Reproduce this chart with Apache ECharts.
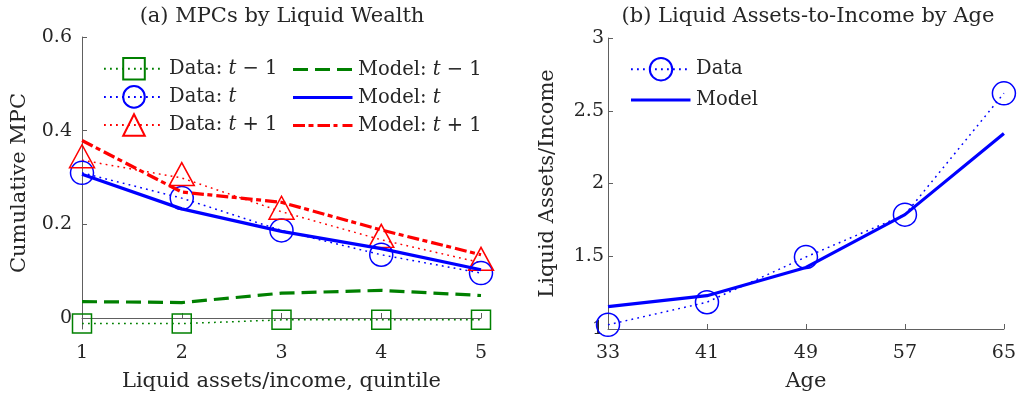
<!DOCTYPE html>
<html><head><meta charset="utf-8">
<script src="https://cdn.jsdelivr.net/npm/echarts@6/dist/echarts.min.js"></script>
<style>html,body{margin:0;padding:0;background:#fff}#c{width:1019px;height:398px}</style>
</head><body><div id="c"></div>
<script>
// ---- Panel (a): MPCs by liquid wealth ----
const quintiles = ['1', '2', '3', '4', '5'];
const dataTm1  = [-0.012, -0.012, -0.004, -0.004, -0.004];
const dataT    = [0.310, 0.256, 0.187, 0.135, 0.096];
const dataTp1  = [0.337, 0.299, 0.227, 0.167, 0.118];
const modelTm1 = [0.035, 0.033, 0.053, 0.059, 0.048];
const modelT   = [0.307, 0.233, 0.185, 0.148, 0.103];
const modelTp1 = [0.379, 0.269, 0.247, 0.188, 0.135];
const mpcTicks = [0, 0.2, 0.4, 0.6];

// ---- Panel (b): liquid assets-to-income by age ----
const ages = ['33', '41', '49', '57', '65'];
const liqData  = [1.029, 1.184, 1.495, 1.786, 2.620];
const liqModel = [1.154, 1.229, 1.423, 1.786, 2.343];

const FONT = 'DejaVu Serif';
const TXT = '#262626';
const AX = '#606060';
const GREEN = '#008000', BLUE = '#0000FF', RED = '#FF0000';
const FS_TICK = 19, FS_NAME = 21, FS_LEG = 19.5;

const rich = {
  n: { fontFamily: FONT, fontSize: FS_LEG, color: TXT },
  i: { fontFamily: FONT, fontSize: FS_LEG, color: TXT, fontStyle: 'italic' }
};
function fmt(name) {
  const m = name.match(/^(.*: )t(.*)$/);
  if (!m) return '{n|' + name + '}';
  return '{n|' + m[1] + '}{i|t}' + (m[2] ? '{n|' + m[2] + '}' : '');
}
// legend icons for model lines (bounding box 60 x 27, band in the middle)
const BOX = 'M0,0h0.01v0.01h-0.01zM59.99,26.99h0.01v0.01h-0.01z';
const iconSolid = 'path://' + BOX + 'M0,12h59.5v3h-59.5z';
const iconDash = 'path://' + BOX + 'M0,12h15v3h-15zM22,12h15v3h-15zM44,12h15v3h-15z';
const iconDashDot = 'path://' + BOX + 'M0,12h12v3h-12zM15.5,12h5v3h-5zM24.5,12h12.5v3h-12.5zM40.5,12h4v3h-4zM49.5,12h10v3h-10z';

function dataSeries(name, data, color, symbol, size, idx, extra) {
  return Object.assign({
    name, type: 'line', data, xAxisIndex: idx, yAxisIndex: idx,
    symbol, symbolSize: size, showAllSymbol: true, clip: false,
    lineStyle: { color, width: 1.5, type: [1.8, 4.2] },
    itemStyle: { color: 'rgba(255,255,255,0)', borderColor: color, borderWidth: 1.5 },
    z: 2
  }, extra || {});
}
function modelSeries(name, data, color, type, idx) {
  return {
    name, type: 'line', data, xAxisIndex: idx, yAxisIndex: idx,
    symbol: 'none', clip: false,
    lineStyle: { color, width: 3.2, type },
    itemStyle: { color },
    z: 3
  };
}

const axisLine = { show: true, lineStyle: { color: AX, width: 1 } };
const axisTick = { show: true, inside: true, length: 5, lineStyle: { color: AX, width: 1 } };
const labelStyle = { color: TXT, fontFamily: FONT, fontSize: FS_TICK };
const nameStyle = { color: TXT, fontFamily: FONT, fontSize: FS_NAME };
const titleStyle = { color: TXT, fontFamily: FONT, fontSize: FS_NAME, fontWeight: 'normal' };

const option = {
  animation: false,
  backgroundColor: '#fff',
  title: [
    { text: '(a) MPCs by Liquid Wealth', left: 282, top: 6, textAlign: 'center', padding: 0, textStyle: titleStyle },
    { text: '(b) Liquid Assets-to-Income by Age', left: 808, top: 6, textAlign: 'center', padding: 0, textStyle: titleStyle }
  ],
  grid: [
    { left: 82, right: 538, top: 37, bottom: 69 },
    { left: 608, right: 13, top: 38, bottom: 69 }
  ],
  xAxis: [
    { type: 'category', gridIndex: 0, data: quintiles, boundaryGap: false,
      axisLine, axisTick, axisLabel: Object.assign({ margin: 15 }, labelStyle), splitLine: { show: false },
      name: 'Liquid assets/income, quintile', nameLocation: 'middle', nameGap: 42, nameTextStyle: nameStyle },
    { type: 'category', gridIndex: 1, data: ages, boundaryGap: false,
      axisLine, axisTick, axisLabel: Object.assign({ margin: 15 }, labelStyle), splitLine: { show: false },
      name: 'Age', nameLocation: 'middle', nameGap: 42, nameTextStyle: nameStyle }
  ],
  yAxis: [
    { type: 'value', gridIndex: 0, min: -0.0235, max: 0.6,
      axisLine, axisTick: Object.assign({ customValues: mpcTicks }, axisTick),
      axisLabel: Object.assign({ margin: 10, customValues: mpcTicks }, labelStyle),
      splitLine: { show: false },
      name: 'Cumulative MPC', nameLocation: 'middle', nameGap: 52, nameTextStyle: nameStyle },
    { type: 'value', gridIndex: 1, min: 1, max: 3, interval: 0.5,
      axisLine, axisTick, axisLabel: Object.assign({ margin: 4 }, labelStyle),
      splitLine: { show: false },
      name: 'Liquid Assets/Income', nameLocation: 'middle', nameGap: 50, nameTextStyle: nameStyle }
  ],
  legend: [
    { orient: 'vertical', left: 103, top: 57, itemWidth: 60, itemHeight: 27, itemGap: 4.5, padding: 0,
      selectedMode: false, formatter: fmt, textStyle: { rich },
      data: ['Data: t − 1', 'Data: t', 'Data: t + 1'] },
    { orient: 'vertical', left: 293, top: 56, itemWidth: 60, itemHeight: 27, itemGap: 1, padding: 0,
      selectedMode: false, formatter: fmt, textStyle: { rich },
      data: [
        { name: 'Model: t − 1', icon: iconDash },
        { name: 'Model: t', icon: iconSolid },
        { name: 'Model: t + 1', icon: iconDashDot }
      ] },
    { orient: 'vertical', left: 630, top: 57, itemWidth: 60, itemHeight: 28, itemGap: 5, padding: 0,
      selectedMode: false, formatter: fmt, textStyle: { rich },
      data: ['Data', { name: 'Model', icon: iconSolid }] }
  ],
  series: [
    dataSeries('Data: t − 1', dataTm1, GREEN, 'rect', 19, 0),
    dataSeries('Data: t', dataT, BLUE, 'circle', 23, 0),
    dataSeries('Data: t + 1', dataTp1, RED, 'triangle', [25, 23], 0, { symbolOffset: [0, '-17%'] }),
    modelSeries('Model: t − 1', modelTm1, GREEN, [15, 7], 0),
    modelSeries('Model: t', modelT, BLUE, 'solid', 0),
    modelSeries('Model: t + 1', modelTp1, RED, [12, 3.5, 5, 4], 0),
    dataSeries('Data', liqData, BLUE, 'circle', 23, 1),
    modelSeries('Model', liqModel, BLUE, 'solid', 1)
  ]
};

const chart = echarts.init(document.getElementById('c'), null, { renderer: 'canvas' });
chart.setOption(option);
</script>
</body></html>
